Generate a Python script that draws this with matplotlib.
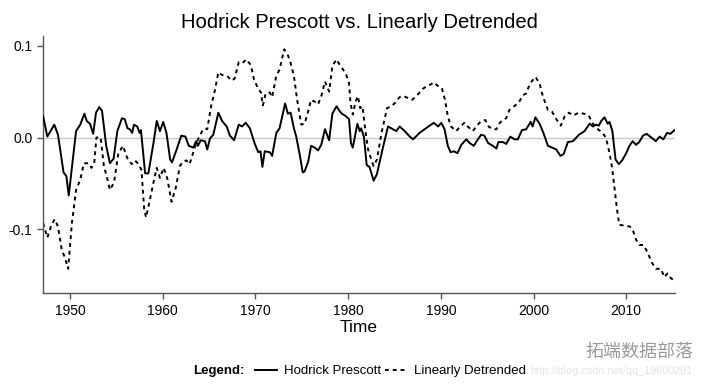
import matplotlib
matplotlib.use("Agg")
import matplotlib.pyplot as plt
from matplotlib.lines import Line2D

plt.rcParams["font.family"] = ["Liberation Sans", "DejaVu Sans"]

# Hodrick Prescott cycle
hp_years = [
    1947.1, 1947.55, 1948.3, 1948.7, 1949.3, 1949.6, 1949.86, 1950.65, 1951.1, 1951.55,
    1951.8, 1952.15, 1952.5, 1952.8, 1953.15, 1953.45, 1953.9, 1954.3, 1954.7, 1955.1,
    1955.6, 1955.9, 1956.2, 1956.45, 1956.7, 1956.9, 1957.25, 1957.5, 1957.65, 1958.1,
    1958.45, 1959.0, 1959.35, 1959.7, 1960.05, 1960.4, 1960.8, 1961.0, 1961.5, 1962.0,
    1962.45, 1962.8, 1963.3, 1963.6, 1963.8, 1964.1, 1964.55, 1964.8, 1965.1, 1965.45,
    1966.0, 1966.4, 1966.9, 1967.25, 1967.7, 1968.2, 1968.55, 1968.95, 1969.4, 1969.9,
    1970.3, 1970.55, 1970.75, 1971.0, 1971.55, 1971.8, 1972.25, 1972.6, 1973.2, 1973.5,
    1973.8, 1974.15, 1974.4, 1974.8, 1975.1, 1975.3, 1975.7, 1976.0, 1976.4, 1976.75,
    1977.1, 1977.5, 1977.95, 1978.3, 1978.75, 1979.0, 1979.3, 1979.65, 1980.1, 1980.3,
    1980.5, 1981.0, 1981.25, 1981.4, 1981.7, 1982.0, 1982.3, 1982.75, 1983.1, 1983.75,
    1984.3, 1984.65, 1985.2, 1985.55, 1986.1, 1986.65, 1987.0, 1987.7, 1988.25, 1988.8,
    1989.25, 1989.7, 1990.05, 1990.4, 1990.75, 1991.05, 1991.4, 1991.8, 1992.2, 1992.75,
    1993.1, 1993.55, 1994.0, 1994.35, 1994.7, 1995.1, 1995.6, 1996.0, 1996.2, 1996.7,
    1997.05, 1997.5, 1997.95, 1998.3, 1998.75, 1999.2, 1999.7, 1999.9, 2000.2, 2000.65,
    2001.1, 2001.55, 2002.0, 2002.45, 2002.9, 2003.25, 2003.7, 2004.25, 2004.9, 2005.5,
    2006.05, 2006.4, 2006.75, 2007.05, 2007.3, 2007.65, 2008.0, 2008.2, 2008.5, 2008.85,
    2009.2, 2009.55, 2010.0, 2010.35, 2010.7, 2011.05, 2011.4, 2011.8, 2012.2, 2012.7,
    2013.2, 2013.6, 2014.0, 2014.4, 2014.75, 2015.2,
]
hp_values = [
    0.023, 0.001, 0.014, 0.003, -0.038, -0.042, -0.063, 0.007, 0.014, 0.026,
    0.018, 0.015, 0.004, 0.027, 0.033, 0.029, -0.009, -0.028, -0.023, 0.007,
    0.021, 0.020, 0.010, 0.009, 0.005, 0.014, 0.012, 0.005, 0.008, -0.039,
    -0.039, -0.006, 0.018, 0.007, 0.017, 0.005, -0.024, -0.027, -0.013, 0.002,
    0.001, -0.009, -0.011, -0.004, -0.009, -0.003, -0.004, -0.013, -0.001, 0.003,
    0.027, 0.018, 0.012, 0.002, -0.003, 0.014, 0.012, 0.016, 0.010, -0.006,
    -0.016, -0.015, -0.032, -0.015, -0.016, -0.020, 0.005, 0.010, 0.037, 0.026,
    0.027, 0.010, 0.001, -0.020, -0.038, -0.037, -0.026, -0.009, -0.011, -0.014,
    -0.008, 0.009, -0.003, 0.026, 0.034, 0.030, 0.026, 0.024, 0.020, -0.006,
    -0.011, 0.015, 0.007, 0.010, 0.001, -0.030, -0.032, -0.047, -0.040, -0.011,
    0.012, 0.010, 0.007, 0.012, 0.007, 0.001, -0.002, 0.005, 0.009, 0.013,
    0.016, 0.012, 0.016, 0.009, -0.009, -0.016, -0.015, -0.017, -0.008, -0.002,
    -0.006, -0.009, -0.002, 0.003, 0.002, -0.006, -0.009, -0.012, -0.005, -0.005,
    -0.007, 0.001, -0.002, -0.002, 0.008, 0.009, 0.017, 0.012, 0.022, 0.015,
    0.004, -0.009, -0.011, -0.013, -0.020, -0.018, -0.005, -0.004, 0.003, 0.007,
    0.015, 0.012, 0.014, 0.013, 0.018, 0.022, 0.015, 0.017, 0.007, -0.024,
    -0.029, -0.025, -0.017, -0.009, -0.004, -0.008, -0.005, 0.002, 0.004, 0.000,
    -0.004, 0.001, -0.002, 0.005, 0.004, 0.008,
]

# Linearly detrended series
ld_years = [
    1947.1, 1947.55, 1948.0, 1948.35, 1948.7, 1949.1, 1949.45, 1949.8, 1950.2, 1950.65,
    1951.1, 1951.5, 1952.0, 1952.3, 1952.6, 1952.85, 1953.3, 1953.65, 1953.95, 1954.3,
    1954.75, 1955.2, 1955.7, 1956.2, 1956.65, 1957.0, 1957.3, 1957.7, 1958.0, 1958.2,
    1958.55, 1959.0, 1959.35, 1959.7, 1960.1, 1960.5, 1960.95, 1961.4, 1961.85, 1962.2,
    1962.55, 1962.9, 1963.45, 1963.9, 1964.25, 1964.5, 1964.8, 1965.25, 1965.6, 1966.0,
    1966.4, 1966.95, 1967.4, 1967.75, 1968.2, 1968.6, 1969.0, 1969.5, 1969.85, 1970.3,
    1970.6, 1970.8, 1971.1, 1971.55, 1971.8, 1972.25, 1972.6, 1973.1, 1973.45, 1973.8,
    1974.15, 1974.5, 1974.95, 1975.3, 1975.7, 1976.0, 1976.4, 1976.75, 1977.1, 1977.5,
    1977.95, 1978.3, 1978.75, 1979.1, 1979.45, 1979.8, 1980.1, 1980.25, 1980.5, 1980.8,
    1981.05, 1981.3, 1981.55, 1981.8, 1982.15, 1982.5, 1982.75, 1983.1, 1983.6, 1984.2,
    1984.65, 1985.1, 1985.55, 1986.0, 1986.45, 1986.9, 1987.35, 1987.7, 1988.05, 1988.5,
    1988.95, 1989.25, 1989.7, 1990.1, 1990.45, 1990.75, 1991.1, 1991.65, 1992.1, 1992.55,
    1992.9, 1993.45, 1993.9, 1994.35, 1994.8, 1995.15, 1995.6, 1996.0, 1996.35, 1996.7,
    1997.05, 1997.4, 1997.9, 1998.4, 1998.85, 1999.2, 1999.55, 1999.8, 2000.2, 2000.65,
    2001.0, 2001.55, 2002.0, 2002.45, 2002.95, 2003.35, 2003.8, 2004.3, 2004.85, 2005.4,
    2005.95, 2006.4, 2006.95, 2007.45, 2007.8, 2008.2, 2008.5, 2008.75, 2009.0, 2009.25,
    2009.8, 2010.4, 2010.75, 2011.05, 2011.4, 2011.85, 2012.3, 2012.75, 2013.2, 2013.75,
    2014.1, 2014.45, 2014.8, 2015.2,
]
ld_values = [
    -0.093, -0.109, -0.095, -0.089, -0.097, -0.122, -0.131, -0.143, -0.093, -0.057,
    -0.046, -0.028, -0.028, -0.033, -0.029, 0.000, 0.000, -0.031, -0.042, -0.057,
    -0.049, -0.018, -0.009, -0.023, -0.029, -0.025, -0.028, -0.035, -0.078, -0.087,
    -0.071, -0.049, -0.033, -0.044, -0.033, -0.045, -0.070, -0.055, -0.031, -0.026,
    -0.025, -0.029, -0.011, 0.000, 0.007, 0.010, 0.009, 0.036, 0.050, 0.071,
    0.068, 0.067, 0.062, 0.064, 0.082, 0.081, 0.085, 0.079, 0.063, 0.053,
    0.049, 0.035, 0.048, 0.049, 0.044, 0.067, 0.074, 0.096, 0.091, 0.081,
    0.067, 0.041, 0.014, 0.015, 0.029, 0.041, 0.039, 0.036, 0.045, 0.061,
    0.050, 0.078, 0.085, 0.079, 0.074, 0.068, 0.059, 0.038, 0.025, 0.039,
    0.045, 0.032, 0.034, 0.012, -0.013, -0.024, -0.031, -0.024, 0.005, 0.032,
    0.034, 0.038, 0.044, 0.045, 0.043, 0.041, 0.045, 0.049, 0.053, 0.056,
    0.058, 0.060, 0.056, 0.054, 0.041, 0.023, 0.012, 0.007, 0.012, 0.016,
    0.012, 0.007, 0.013, 0.018, 0.019, 0.012, 0.009, 0.009, 0.016, 0.019,
    0.021, 0.030, 0.034, 0.038, 0.046, 0.048, 0.057, 0.061, 0.066, 0.059,
    0.045, 0.030, 0.028, 0.020, 0.013, 0.023, 0.027, 0.024, 0.027, 0.026,
    0.024, 0.015, 0.009, 0.005, 0.000, -0.017, -0.035, -0.057, -0.078, -0.095,
    -0.096, -0.097, -0.102, -0.111, -0.117, -0.117, -0.125, -0.136, -0.143, -0.143,
    -0.152, -0.148, -0.153, -0.156,
]

x_ticks = [1950, 1960, 1970, 1980, 1990, 2000, 2010]
y_ticks = [-0.1, 0.0, 0.1]
y_tick_labels = ["-0.1", "0.0", "0.1"]

fig = plt.figure(figsize=(7.08, 3.86), dpi=100, facecolor="white")
ax = fig.add_axes([0.0607, 0.2402, 0.8927, 0.6665])

ax.axhline(0, color="#c8c8c8", lw=1.0, zorder=1)
ax.plot(hp_years, hp_values, color="black", lw=1.4, zorder=3)
ax.plot(ld_years, ld_values, color="black", lw=1.4, linestyle=(0, (2, 2)), zorder=2)

ax.set_xlim(1947.08, 2015.26)
ax.set_ylim(-0.1696, 0.1105)
ax.set_xticks(x_ticks)
ax.set_yticks(y_ticks)
ax.set_yticklabels(y_tick_labels)

for side in ["top", "right"]:
    ax.spines[side].set_visible(False)
for side in ["left", "bottom"]:
    ax.spines[side].set_color("#555555")
    ax.spines[side].set_linewidth(1.0)
ax.tick_params(axis="both", colors="#555555", labelcolor="black", labelsize=10,
               length=4, width=1.0)

ax.set_xlabel("Time", fontsize=12.5, labelpad=2)
fig.text(0.507, 1 - 23 / 386, "Hodrick Prescott vs. Linearly Detrended",
         ha="center", va="center", fontsize=14.6)

# Legend row at the bottom
fig.text(193 / 708, 1 - 371 / 386, "Legend:", fontweight="bold",
         fontsize=9.5, va="center", ha="left")
handles = [
    Line2D([], [], color="black", lw=1.4),
    Line2D([], [], color="black", lw=1.4, linestyle=(0, (2, 2))),
]
fig.legend(handles, ["Hodrick Prescott", "Linearly Detrended"], ncol=2,
           frameon=False, fontsize=9.5, handlelength=1.7, handletextpad=0.5,
           columnspacing=0.3, loc="center left",
           bbox_to_anchor=(248 / 708, 1 - 371 / 386), borderpad=0)

# Watermark
fig.text(585 / 708, 1 - 352 / 386, "拓端数据部落", fontsize=13, color="#9a9a9a",
         family=["Noto Sans CJK SC", "DejaVu Sans"], va="center", ha="left")
fig.text(530 / 708, 1 - 371 / 386, "http://blog.csdn.net/qq_19600291",
         fontsize=7.8, color="#e4e4e4", va="center", ha="left", zorder=0)

fig.savefig("out.png", dpi=100, facecolor="white")
